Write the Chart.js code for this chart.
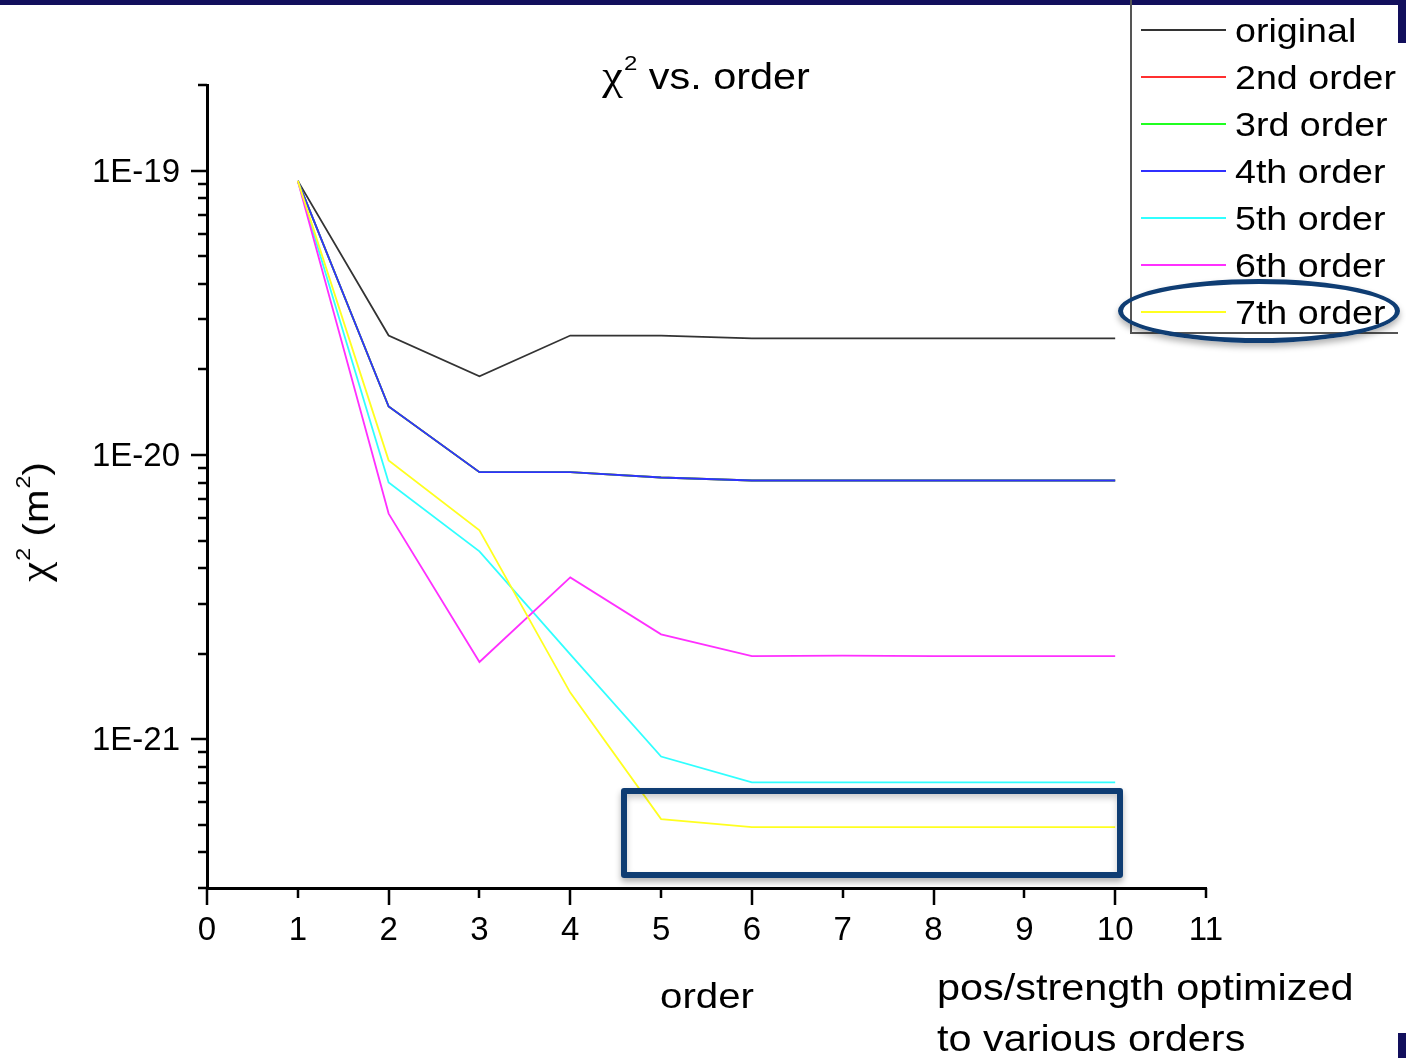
<!DOCTYPE html>
<html>
<head>
<meta charset="utf-8">
<title>chi2 vs. order</title>
<script src="https://cdn.jsdelivr.net/npm/chart.js@4.4.1/dist/chart.umd.min.js"></script>
<style>
	body { margin: 0; background: #fff; }
	#page { position: relative; width: 1406px; height: 1058px; overflow: hidden; background: #fff; font-family: "Liberation Sans", Arial, sans-serif; color: #000; }
	#chart { position: absolute; left: 0; top: 0; }
	.txt { position: absolute; white-space: nowrap; }
	.wide { transform: scaleX(1.15); }
	.chi { font-family: "Liberation Serif", "DejaVu Serif", serif; font-size: 1.12em; }
	.sup { font-size: 0.58em; position: relative; top: -0.9em; margin-left: 0.05em; }
	#title { left: 456px; top: 58px; width: 500px; text-align: center; font-size: 36px; line-height: 36px; }
	#ytitle { left: 38px; top: 522px; font-size: 35px; line-height: 35px; transform: translate(-50%, -50%) rotate(-90deg) scaleX(1.15); }
	#xtitle { left: 607px; top: 978px; width: 200px; text-align: center; font-size: 35px; line-height: 35px; }
	#note { left: 937px; top: 962px; font-size: 36px; line-height: 51px; transform-origin: 0 0; }
	#legend { position: absolute; left: 1130px; top: 0; width: 268px; height: 334px; border-left: 2px solid #555; border-bottom: 2px solid #555; box-sizing: border-box; }
	.leg { position: absolute; left: 0; width: 266px; height: 33px; }
	.leg b { position: absolute; left: 9px; top: 15px; width: 85px; height: 2px; }
	.leg span { position: absolute; left: 103px; top: 0; font-size: 33px; line-height: 33px; white-space: nowrap; transform-origin: 0 0; transform: scaleX(1.14); }
	.bar { position: absolute; background: #120f5c; }
	#box { position: absolute; left: 621px; top: 788px; width: 502px; height: 90px; box-sizing: border-box; border: 6px solid #0f3d73; border-radius: 3px; box-shadow: 0 4px 6px rgba(0,0,0,0.3), inset 0 4px 6px rgba(0,0,0,0.2); }
	#ring { position: absolute; left: 1118px; top: 279px; width: 282px; height: 64px; box-sizing: border-box; border: 5px solid #0f3d73; border-radius: 50%; box-shadow: 0 4px 6px rgba(0,0,0,0.3); }
</style>
</head>
<body>
<div id="page">
	<canvas id="chart" width="1406" height="1058"></canvas>
	<div class="bar" style="left:0;top:0;width:1406px;height:5px"></div>
	<div class="bar" style="left:1398px;top:0;width:8px;height:43px"></div>
	<div class="bar" style="left:1398px;top:1033px;width:8px;height:25px"></div>
	<div id="title" class="txt wide"><span class="chi">χ</span><span class="sup">2</span> vs. order</div>
	<div id="ytitle" class="txt"><span class="chi">χ</span><span class="sup">2</span> (m<span class="sup">2</span>)</div>
	<div id="xtitle" class="txt wide">order</div>
	<div id="note" class="txt wide">pos/strength optimized<br>to various orders</div>
	<div id="legend"></div>
	<div id="box"></div>
	<div id="ring"></div>
</div>
<script>
// x positions (order) of every point
const orders = [1, 2, 3, 4, 5, 6, 7, 8, 9, 10];

// chi^2 values (m^2)
const original = [9.2e-20, 2.63e-20, 1.89e-20, 2.63e-20, 2.63e-20, 2.57e-20, 2.57e-20, 2.57e-20, 2.57e-20, 2.57e-20];
const order2 = [9.2e-20, 1.48e-20, 8.7e-21, 8.7e-21, 8.33e-21, 8.13e-21, 8.13e-21, 8.13e-21, 8.13e-21, 8.13e-21];
const order3 = [9.2e-20, 1.48e-20, 8.7e-21, 8.7e-21, 8.33e-21, 8.13e-21, 8.13e-21, 8.13e-21, 8.13e-21, 8.13e-21];
const order4 = [9.2e-20, 1.48e-20, 8.7e-21, 8.7e-21, 8.33e-21, 8.13e-21, 8.13e-21, 8.13e-21, 8.13e-21, 8.13e-21];
const order5 = [9.2e-20, 8.0e-21, 4.58e-21, 1.99e-21, 8.7e-22, 7.06e-22, 7.06e-22, 7.06e-22, 7.06e-22, 7.06e-22];
const order6 = [9.2e-20, 6.22e-21, 1.87e-21, 3.71e-21, 2.34e-21, 1.96e-21, 1.97e-21, 1.96e-21, 1.96e-21, 1.96e-21];
const order7 = [9.2e-20, 9.57e-21, 5.43e-21, 1.46e-21, 5.24e-22, 4.91e-22, 4.91e-22, 4.91e-22, 4.91e-22, 4.91e-22];

const seriesNames = ['original', '2nd order', '3rd order', '4th order', '5th order', '6th order', '7th order'];
const seriesValues = [original, order2, order3, order4, order5, order6, order7];
const seriesColors = ['#333333', '#ff3030', '#20ff20', '#3030ff', '#30ffff', '#ff30ff', '#ffff20'];

// axis ticks
const xTickValues = [0, 1, 2, 3, 4, 5, 6, 7, 8, 9, 10, 11];
const yMajorTicks = [1e-21, 1e-20, 1e-19];
const yTickLabels = ['1E-21', '1E-20', '1E-19'];
const yMinorMantissas = [2, 3, 4, 5, 6, 7, 8, 9];
const yMin = 3e-22;
const yMax = 2e-19;

const PLOT_LEFT = 207, PLOT_RIGHT = 1206, PLOT_TOP = 85, PLOT_BOTTOM = 888;

function majorIndex(v) {
	return yMajorTicks.findIndex(m => Math.abs(v / m - 1) < 1e-6);
}

function buildYTicks() {
	const ticks = [];
	yMajorTicks.forEach(m => {
		ticks.push(m);
		yMinorMantissas.forEach(k => ticks.push(m * k / 10));
	});
	ticks.push(yMax);
	return ticks.filter(v => v >= yMin * 0.999 && v <= yMax * 1.001).sort((a, b) => a - b);
}

// Origin-style tick marks: long at majors, short at minors, all pointing outward
const tickMarks = {
	id: 'tickMarks',
	afterDraw(chart) {
		const { ctx, scales: { x, y } } = chart;
		ctx.save();
		ctx.strokeStyle = '#000';
		ctx.lineWidth = 2.5;
		ctx.beginPath();
		xTickValues.forEach(v => {
			const px = Math.round(x.getPixelForValue(v));
			const len = v % 2 === 0 ? 17 : 10;
			ctx.moveTo(px, PLOT_BOTTOM);
			ctx.lineTo(px, PLOT_BOTTOM + len);
		});
		y.ticks.forEach(t => {
			const py = Math.round(y.getPixelForValue(t.value));
			const len = majorIndex(t.value) >= 0 ? 16 : 9;
			ctx.moveTo(PLOT_LEFT, py);
			ctx.lineTo(PLOT_LEFT - len, py);
		});
		ctx.stroke();
		ctx.restore();
	}
};

function buildLegend() {
	const box = document.getElementById('legend');
	seriesNames.forEach((name, i) => {
		const row = document.createElement('div');
		row.className = 'leg';
		const baseline = 42 + i * 47;
		row.style.top = (baseline - 28) + 'px';
		const line = document.createElement('b');
		line.style.background = seriesColors[i];
		const label = document.createElement('span');
		label.textContent = name;
		row.appendChild(line);
		row.appendChild(label);
		box.appendChild(row);
	});
}

function createChart() {
	const ctx = document.getElementById('chart').getContext('2d');
	const datasets = seriesNames.map((name, i) => ({
		label: name,
		data: orders.map((o, j) => ({ x: o, y: seriesValues[i][j] })),
		borderColor: seriesColors[i],
		backgroundColor: seriesColors[i],
		borderWidth: 1.8,
		pointRadius: 0,
		tension: 0,
		fill: false,
		// later orders are drawn on top, as in the original plot
		order: seriesNames.length - i
	}));

	new Chart(ctx, {
		type: 'line',
		data: { datasets },
		options: {
			responsive: false,
			animation: false,
			devicePixelRatio: 1,
			layout: { padding: { left: 0, top: PLOT_TOP, right: 1406 - PLOT_RIGHT, bottom: 0 } },
			plugins: {
				legend: { display: false },
				title: { display: false },
				tooltip: { enabled: false }
			},
			scales: {
				x: {
					type: 'linear',
					min: 0,
					max: 11,
					afterBuildTicks: scale => { scale.ticks = xTickValues.map(v => ({ value: v })); },
					afterFit: scale => { scale.height = 1058 - PLOT_BOTTOM; },
					grid: { display: true, drawOnChartArea: false, drawTicks: false },
					border: { display: true, color: '#000', width: 3 },
					ticks: {
						color: '#000',
						padding: 23,
						maxRotation: 0,
						autoSkip: false,
						font: { family: '"Liberation Sans", Arial, sans-serif', size: 33 },
						callback: v => String(v)
					}
				},
				y: {
					type: 'logarithmic',
					min: yMin,
					max: yMax,
					afterBuildTicks: scale => { scale.ticks = buildYTicks().map(v => ({ value: v })); },
					afterFit: scale => { scale.width = PLOT_LEFT; },
					grid: { display: true, drawOnChartArea: false, drawTicks: false },
					border: { display: true, color: '#000', width: 3 },
					ticks: {
						color: '#000',
						padding: 27,
						labelOffset: 2,
						autoSkip: false,
						font: { family: '"Liberation Sans", Arial, sans-serif', size: 33 },
						callback: v => {
							const k = majorIndex(v);
							return k >= 0 ? yTickLabels[k] : '';
						}
					}
				}
			}
		},
		plugins: [tickMarks]
	});
}

buildLegend();
createChart();
</script>
</body>
</html>
